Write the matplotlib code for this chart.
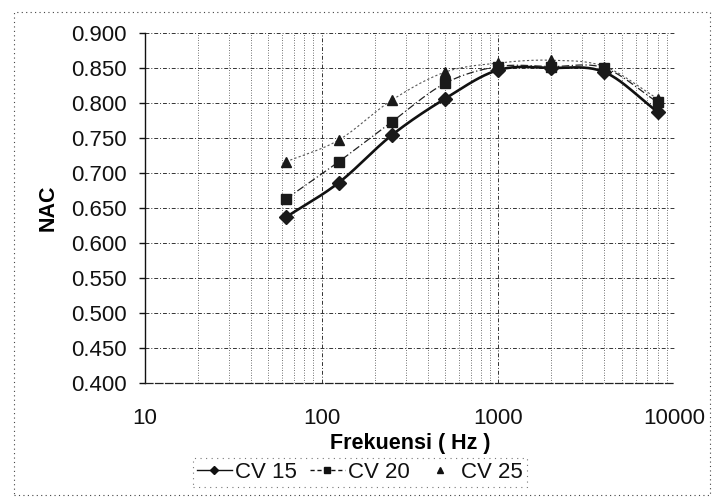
import numpy as np
import matplotlib
matplotlib.use("Agg")
import matplotlib.pyplot as plt
from matplotlib.lines import Line2D
from matplotlib.patches import Rectangle
from matplotlib.ticker import FixedLocator, NullFormatter, FuncFormatter

# Noise absorption coefficient (NAC) against frequency
freq = [63, 125, 250, 500, 1000, 2000, 4000, 8000]
cv15 = [0.637, 0.686, 0.754, 0.806, 0.847, 0.850, 0.844, 0.787]
cv20 = [0.663, 0.716, 0.773, 0.828, 0.852, 0.852, 0.850, 0.801]
cv25 = [0.716, 0.747, 0.804, 0.844, 0.857, 0.861, 0.852, 0.806]
series_labels = ["CV 15", "CV 20", "CV 25"]
y_ticks = [0.400, 0.450, 0.500, 0.550, 0.600, 0.650, 0.700, 0.750, 0.800, 0.850, 0.900]
x_ticks = [10, 100, 1000, 10000]
x_label = "Frekuensi ( Hz )"
y_label = "NAC"

plt.rcParams["font.family"] = ["Liberation Sans", "DejaVu Sans"]


def smooth_curve(x, y, steps=24):
    """Catmull-Rom spline through the points in log10(x) space."""
    u = np.log10(np.asarray(x, float))
    v = np.asarray(y, float)
    pu = np.concatenate([[2 * u[0] - u[1]], u, [2 * u[-1] - u[-2]]])
    pv = np.concatenate([[2 * v[0] - v[1]], v, [2 * v[-1] - v[-2]]])
    out_u, out_v = [], []
    t = np.linspace(0, 1, steps)
    for i in range(1, len(pu) - 2):
        for arr, res in ((pu, out_u), (pv, out_v)):
            p0, p1, p2, p3 = arr[i - 1], arr[i], arr[i + 1], arr[i + 2]
            seg = 0.5 * ((2 * p1) + (-p0 + p2) * t
                         + (2 * p0 - 5 * p1 + 4 * p2 - p3) * t ** 2
                         + (-p0 + 3 * p1 - 3 * p2 + p3) * t ** 3)
            res.extend(seg)
    return 10 ** np.array(out_u), np.array(out_v)


fig = plt.figure(figsize=(7.14, 4.99), dpi=100)
ax = fig.add_axes([0.203, 0.2325, 0.742, 0.7015])

styles = [
    dict(marker="D", ms=7, lw=1.9, ls="-", color="#111111"),
    dict(marker="s", ms=7, lw=0.9, ls=(0, (6, 2, 1, 2)), color="#222222"),
    dict(marker="^", ms=7, lw=0.8, ls=(0, (2, 2)), color="#555555"),
]

handles = []
for vals, lab, st in zip([cv15, cv20, cv25], series_labels, styles):
    xs, ys = smooth_curve(freq, vals)
    ax.plot(xs, ys, color=st["color"], lw=st["lw"], ls=st["ls"], zorder=3)
    ax.plot(freq, vals, ls="none", marker=st["marker"], ms=st["ms"],
            color="#1a1a1a", zorder=4)
    handles.append(Line2D([], [], color="#111111", lw=1.0, ls=st["ls"],
                          marker=st["marker"], ms=4.5, markerfacecolor="#111111",
                          markeredgecolor="#111111", label=lab))
handles[0].set_linestyle("-")
handles[1].set_linestyle((0, (3, 2)))
# the third series shows only its marker in the key
handles[2].set_linestyle("none")

ax.set_xscale("log")
ax.set_xlim(10, 10000)
ax.set_ylim(0.400, 0.900)
ax.xaxis.set_major_locator(FixedLocator(x_ticks))
ax.xaxis.set_major_formatter(FuncFormatter(lambda v, p: f"{int(v)}"))
minors = [m * d for d in (10, 100, 1000) for m in range(2, 10)]
ax.xaxis.set_minor_locator(FixedLocator(minors))
ax.xaxis.set_minor_formatter(NullFormatter())
ax.yaxis.set_major_locator(FixedLocator(y_ticks))
ax.yaxis.set_major_formatter(FuncFormatter(lambda v, p: f"{v:.3f}"))

ax.grid(True, which="major", axis="both", color="#333333", lw=0.7,
        ls=(0, (4, 2, 1, 2)))
ax.grid(True, which="minor", axis="x", color="#444444", lw=0.6, ls=(0, (1, 2)))
ax.set_axisbelow(True)

for side in ("top", "right"):
    ax.spines[side].set_visible(False)
ax.spines["left"].set_color("#111111")
ax.spines["left"].set_linewidth(1.0)
ax.spines["bottom"].set_color("#222222")
ax.spines["bottom"].set_linewidth(0.9)
ax.spines["bottom"].set_linestyle((0, (6, 2)))

ax.tick_params(axis="y", which="major", length=4, width=1.0, pad=9,
               labelsize=16, colors="#111111")
ax.tick_params(axis="x", which="major", length=0, pad=18, labelsize=16,
               colors="#111111")
ax.tick_params(axis="x", which="minor", length=0)

ax.set_xlabel(x_label, fontsize=15.5, fontweight="bold", labelpad=3)
ax.set_ylabel(y_label, fontsize=15.5, fontweight="bold", labelpad=9)

leg = fig.legend(handles=handles, loc="center", bbox_to_anchor=(0.504, 0.053),
                 ncol=3, fontsize=16, frameon=True, handlelength=1.55,
                 handletextpad=0.15, columnspacing=0.6, borderpad=0.2,
                 borderaxespad=0)
leg.get_frame().set_edgecolor("#555555")
leg.get_frame().set_linestyle((0, (1, 4)))
leg.get_frame().set_linewidth(0.8)
leg.get_frame().set_boxstyle("square", pad=0)
for txt in leg.get_texts():
    txt.set_color("#111111")

# chart-area border
fig.patches.append(Rectangle((0.02, 0.008), 0.975, 0.968, transform=fig.transFigure,
                             fill=False, ec="#444444", lw=0.8, ls=(0, (1, 3))))

fig.savefig("out.png", dpi=100, facecolor="white")
